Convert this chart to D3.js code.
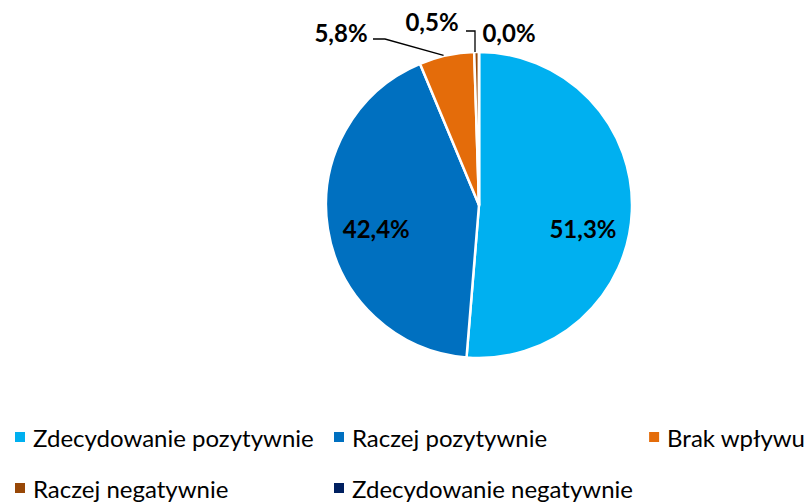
<!DOCTYPE html>
<html>
<head>
<meta charset="utf-8">
<script src="https://cdn.jsdelivr.net/npm/d3@7"></script>
<style>
  html, body { margin: 0; padding: 0; background: #fff; }
  svg text { font-family: Lato, "Open Sans", sans-serif; }
</style>
</head>
<body>
<svg id="chart" width="808" height="503"></svg>
<script>
// Survey answer categories and their shares (%)
const categories = [
  "Zdecydowanie pozytywnie",
  "Raczej pozytywnie",
  "Brak wpływu",
  "Raczej negatywnie",
  "Zdecydowanie negatywnie"
];
const values = [51.3, 42.4, 5.8, 0.5, 0.0];
const colors = ["#00B0F0", "#0070C0", "#E46C0A", "#984807", "#002060"];

const svg = d3.select("#chart");
const W = 808;
const cx = 479, cy = 205, radius = 153;

const color = d3.scaleOrdinal().domain(categories).range(colors);
const pie = d3.pie().sort(null).value(d => d.value);
const arcs = pie(categories.map((c, i) => ({ name: c, value: values[i] })));
const arc = d3.arc().innerRadius(0).outerRadius(radius);
const fmt = v => v.toFixed(1).replace(".", ",") + "%";

const g = svg.append("g").attr("transform", `translate(${cx},${cy})`);

g.selectAll("path.slice")
  .data(arcs)
  .join("path")
  .attr("class", "slice")
  .attr("d", arc)
  .attr("fill", d => color(d.data.name))
  .attr("stroke", "#fff")
  .attr("stroke-width", 2.5)
  .attr("stroke-linejoin", "round");

// Labels inside the two large slices
const innerArc = d3.arc().innerRadius(radius * 0.68).outerRadius(radius * 0.68);
g.selectAll("text.inner")
  .data(arcs.filter(d => d.data.value > 20))
  .join("text")
  .attr("class", "inner")
  .attr("transform", d => {
    const [x] = innerArc.centroid(d);
    return `translate(${x},23)`;
  })
  .attr("text-anchor", "middle")
  .attr("dominant-baseline", "central")
  .style("font-size", "24px")
  .style("font-weight", "bold")
  .text(d => fmt(d.data.value));

// Outside labels for small slices, with leader lines
const outside = arcs.filter(d => d.data.value < 20);
const pt = (angle, r) => [Math.sin(angle) * r, -Math.cos(angle) * r];
const labelPos = [
  { x: -138, y: -173, line: d => { const e = pt((d.startAngle + d.endAngle) / 2, radius); return [[-106, -166], [-94, -166], [e[0] - 3, e[1]]]; } },
  { x: -47, y: -184, line: d => { const e = pt((d.startAngle + d.endAngle) / 2, radius); return [[-13, -174], [-4, -174], [-4, e[1]]]; } },
  { x: 30, y: -173, line: null }
];
outside.forEach((d, i) => {
  const p = labelPos[i];
  if (p.line) {
    g.append("path")
      .attr("d", d3.line()(p.line(d)))
      .attr("fill", "none")
      .attr("stroke", "#000")
      .attr("stroke-width", 1.3);
  }
  g.append("text")
    .attr("x", p.x)
    .attr("y", p.y)
    .attr("text-anchor", "middle")
    .attr("dominant-baseline", "central")
    .style("font-size", "24px")
    .style("font-weight", "bold")
    .text(fmt(d.data.value));
});

// Legend: two rows; an entry that would run past the right edge is pulled back in
const legendPos = [[15, 437], [334, 437], [652, 437], [15, 488], [334, 488]];
const legend = svg.append("g");
categories.forEach((c, i) => {
  const [x, y] = legendPos[i];
  const item = legend.append("g");
  item.append("rect")
    .attr("x", x).attr("y", y - 5)
    .attr("width", 10).attr("height", 10)
    .attr("fill", color(c));
  const t = item.append("text")
    .attr("x", x + 18).attr("y", y)
    .attr("dominant-baseline", "central")
    .style("font-size", "24px")
    .text(c);
  const right = x + 18 + t.node().getComputedTextLength();
  if (right > W - 3) item.attr("transform", `translate(${W - 3 - right},0)`);
});
</script>
</body>
</html>
